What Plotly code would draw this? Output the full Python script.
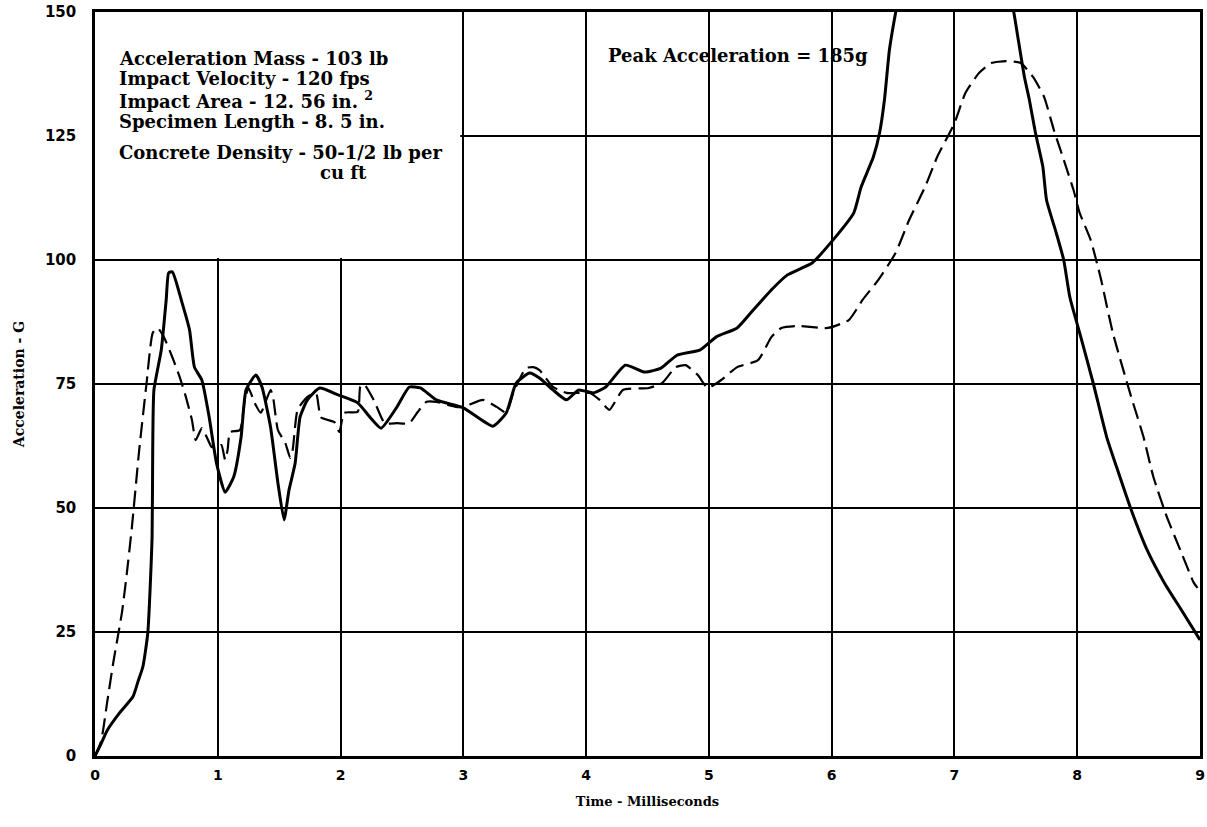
import plotly.graph_objects as go

# Time in milliseconds and acceleration in G for the two recorded traces
t_solid = [0, 0.05, 0.1, 0.2, 0.31, 0.35, 0.39, 0.43, 0.465, 0.47, 0.48, 0.54, 0.58, 0.60, 0.63,
           0.71, 0.77, 0.81, 0.87, 0.93, 0.99, 1.06, 1.13, 1.19, 1.23, 1.31, 1.36, 1.43, 1.49,
           1.54, 1.58, 1.63, 1.67, 1.73, 1.83, 1.98, 2.14, 2.24, 2.33, 2.46, 2.56, 2.65, 2.78,
           3.0, 3.24, 3.35, 3.43, 3.54, 3.62, 3.73, 3.84, 3.94, 4.06, 4.16, 4.32, 4.48, 4.61,
           4.74, 4.93, 5.06, 5.23, 5.34, 5.51, 5.64, 5.84, 6.01, 6.18, 6.24, 6.34, 6.39, 6.43,
           6.47, 6.51, 6.56, 6.7, 7.0, 7.3, 7.48, 7.52, 7.57, 7.61, 7.66, 7.72, 7.75, 7.83,
           7.89, 7.94, 8.02, 8.13, 8.24, 8.32, 8.44, 8.57, 8.71, 8.85, 9.0]
g_solid = [0, 2.5, 5.2, 8.7, 12, 15, 18, 24.8, 44.2, 61.7, 73.8, 81.9, 92, 97.4, 97.6,
           91.3, 85.9, 78.4, 75.8, 68.3, 59, 53.2, 56.3, 64.3, 73.8, 76.8, 74.4, 66.3, 55,
           47.6, 53.6, 59, 68.3, 71.8, 74.2, 72.8, 71.2, 68.3, 66.1, 70.4, 74.4, 74.2, 71.8,
           70.2, 66.5, 69.2, 75.2, 77.2, 76.2, 73.8, 71.8, 73.8, 73.2, 74.4, 78.8, 77.4, 78.2,
           80.8, 81.9, 84.5, 86.3, 89.3, 94, 97, 99.4, 104, 109.5, 114.7, 120.8, 125.6, 132.3,
           142.3, 148.4, 155, 172, 185, 170, 150.4, 144.4, 136.9, 132.3, 125.6, 118.8, 112.1, 105.4,
           100, 92.5, 85.3, 75.2, 64.3, 58.3, 49.6, 41.5, 34.9, 29.4, 23.4]

t_dashed = [0, 0.05, 0.1, 0.15, 0.22, 0.26, 0.3, 0.36, 0.42, 0.47, 0.51, 0.56, 0.63, 0.69, 0.74,
            0.79, 0.82, 0.87, 0.91, 0.95, 1.0, 1.03, 1.06, 1.08, 1.10, 1.18, 1.22, 1.25, 1.30,
            1.35, 1.43, 1.45, 1.49, 1.55, 1.59, 1.61, 1.65, 1.73, 1.80, 1.84, 1.95, 1.99, 2.03,
            2.14, 2.16, 2.19, 2.27, 2.36, 2.46, 2.56, 2.63, 2.70, 2.78, 2.94, 3.0, 3.16, 3.27,
            3.35, 3.41, 3.51, 3.57, 3.62, 3.73, 3.84, 3.92, 4.03, 4.11, 4.19, 4.30, 4.51, 4.62,
            4.73, 4.81, 4.91, 4.99, 5.1, 5.23, 5.4, 5.51, 5.59, 5.72, 5.97, 6.14, 6.25, 6.38,
            6.52, 6.63, 6.76, 6.86, 7.0, 7.09, 7.2, 7.3, 7.42, 7.54, 7.64, 7.73, 7.81, 7.89,
            7.97, 8.02, 8.11, 8.19, 8.29, 8.43, 8.54, 8.62, 8.73, 8.84, 8.95, 8.98]
g_dashed = [0, 3, 11, 19, 29, 37, 46, 61.7, 75.2, 85.3, 86.3, 84.5, 80.4, 76.4, 72.4,
            67.7, 63.7, 66.1, 64.3, 62.3, 62.3, 62.7, 59.7, 61.7, 65.3, 65.7, 71.8, 74.2, 71.2,
            69.2, 73.8, 72.4, 65.7, 63.1, 60.1, 61.7, 69.8, 72.4, 73.2, 68.3, 67.3, 65.3, 69.2,
            69.4, 74.4, 75, 71.8, 67.1, 67.1, 67.1, 69.4, 71.4, 71.4, 70.4, 70.4, 71.8, 70.4,
            69.2, 73.4, 78.2, 78.4, 77.8, 74.4, 73.2, 73.2, 73.2, 71.8, 69.8, 73.8, 74.2, 75.2,
            78.4, 78.8, 76.8, 74.2, 75.8, 78.4, 79.8, 84.5, 86.3, 86.7, 86.3, 87.9, 91.9, 96,
            101.4, 108, 114.7, 120.8, 127.6, 133.7, 137.7, 139.7, 140.1, 139.7, 136.9, 132.9, 126.2, 120.2,
            114.1, 109.5, 104, 96.5, 85.3, 73.2, 64.3, 56.3, 48.2, 41.5, 34.9, 33.9]

x_ticks = [0, 1, 2, 3, 4, 5, 6, 7, 8, 9]
y_ticks = [0, 25, 50, 75, 100, 125, 150]

test_notes = [
    "Acceleration Mass - 103 lb",
    "Impact Velocity - 120 fps",
    "Impact Area - 12. 56 in. <sup>2</sup>",
    "Specimen Length - 8. 5 in.",
    "Concrete Density - 50-1/2 lb per",
]
note_levels = [140.7, 136.5, 132.3, 128.0, 121.6]
peak_note = "Peak Acceleration = 185g"

SERIF = "DejaVu Serif"
NOTE_FONT = dict(family=SERIF, size=18, color="black", weight="bold")

fig = go.Figure()
fig.add_trace(go.Scatter(
    x=t_dashed, y=g_dashed, mode="lines",
    line=dict(color="black", width=2.2, dash="16px,7px", shape="spline", smoothing=0.5),
    showlegend=False, hoverinfo="skip"))
fig.add_trace(go.Scatter(
    x=t_solid, y=g_solid, mode="lines",
    line=dict(color="black", width=3, shape="spline", smoothing=0.5),
    showlegend=False, hoverinfo="skip"))

# Blank panel for the test conditions, sitting over the grid but under the curves
fig.add_shape(type="rect", x0=0, x1=2.975, y0=100.4, y1=150,
              xref="x", yref="y", fillcolor="white", line=dict(width=0), layer="between")

for txt, lvl in zip(test_notes, note_levels):
    fig.add_annotation(x=0.18, y=lvl, text=txt, showarrow=False, xanchor="left",
                       yanchor="middle", font=NOTE_FONT)
fig.add_annotation(x=1.82, y=117.6, text="cu ft", showarrow=False, xanchor="left",
                   yanchor="middle", font=NOTE_FONT)
fig.add_annotation(x=4.16, y=141.3, text=peak_note, showarrow=False, xanchor="left",
                   yanchor="middle", font=NOTE_FONT)

axis_common = dict(showgrid=True, gridcolor="black", gridwidth=1.5, zeroline=False,
                   showline=True, linecolor="black", linewidth=2.5, mirror=True, ticks="")
fig.update_xaxes(range=[0, 9], tickvals=x_ticks, ticktext=[str(v) for v in x_ticks],
                 tickfont=dict(family="DejaVu Sans", size=14, color="black", weight="bold"),
                 title=dict(text="Time - Milliseconds", standoff=16,
                            font=dict(family=SERIF, size=13, color="black", weight="bold")),
                 ticklabelstandoff=4, **axis_common)
fig.update_yaxes(range=[0, 150], tickvals=y_ticks, ticktext=[str(v) for v in y_ticks],
                 tickfont=dict(family="DejaVu Sans", size=15, color="black", weight="bold"),
                 title=dict(text="Acceleration - G", standoff=18,
                            font=dict(family=SERIF, size=14, color="black", weight="bold")),
                 ticklabelstandoff=13, **axis_common)

fig.update_layout(width=1207, height=827, paper_bgcolor="white", plot_bgcolor="white",
                  margin=dict(l=95, r=2, t=12, b=71), showlegend=False)

fig.write_html("out.html")
